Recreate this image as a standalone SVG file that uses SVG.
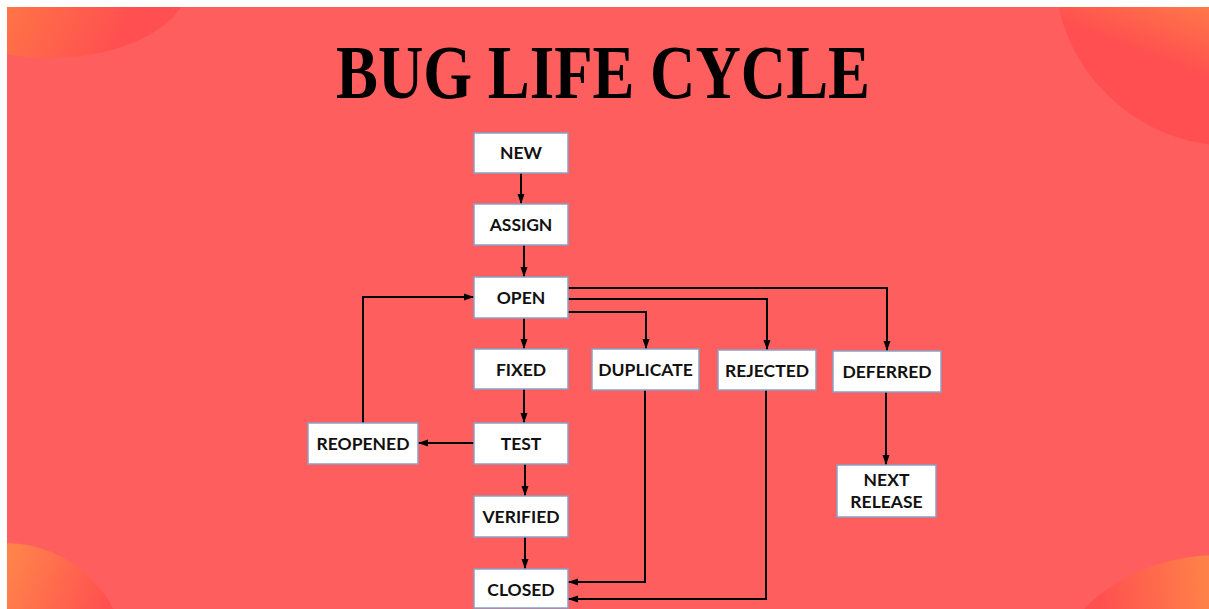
<svg xmlns="http://www.w3.org/2000/svg" width="1209" height="609" viewBox="0 0 1209 609">
<defs>
<style>
.node rect{fill:#ffffff;stroke:#8aa0c6;stroke-width:1.5}
.node text{font-family:Lato,"Open Sans","Liberation Sans",sans-serif;font-weight:bold;font-size:17.5px;fill:#111;text-anchor:middle}
.conn path{fill:none;stroke:#000;stroke-width:2;marker-end:url(#arr)}
.title{font-family:"Liberation Serif","DejaVu Serif",serif;font-weight:bold;font-size:76px;fill:#000;text-anchor:middle}
</style>
<marker id="arr" markerUnits="userSpaceOnUse" markerWidth="10" markerHeight="10" viewBox="0 0 10 10" refX="10" refY="5" orient="auto">
<path d="M0,1.5 L10,5 L0,8.5 Z" fill="#000"/>
</marker>
<linearGradient id="gTL" gradientUnits="userSpaceOnUse" x1="7" y1="7" x2="110" y2="60">
<stop offset="0" stop-color="#ff7446"/>
<stop offset="1" stop-color="#ff4f50"/>
</linearGradient>
<linearGradient id="gTR" gradientUnits="userSpaceOnUse" x1="1209" y1="7" x2="1185" y2="70">
<stop offset="0" stop-color="#ff7848"/>
<stop offset="1" stop-color="#ff4f50"/>
</linearGradient>
<linearGradient id="gBL" gradientUnits="userSpaceOnUse" x1="7" y1="560" x2="110" y2="600">
<stop offset="0" stop-color="#ff844a"/>
<stop offset="1" stop-color="#ff5050"/>
</linearGradient>
<linearGradient id="gBR" gradientUnits="userSpaceOnUse" x1="1209" y1="590" x2="1100" y2="600">
<stop offset="0" stop-color="#ff8248"/>
<stop offset="1" stop-color="#ff5050"/>
</linearGradient>
<clipPath id="frame"><rect x="7" y="7" width="1202" height="602"/></clipPath>
</defs>
<rect width="1209" height="609" fill="#ffffff"/>
<g id="background" clip-path="url(#frame)">
<rect x="7" y="7" width="1202" height="602" fill="#ff5e5e"/>
<ellipse cx="50" cy="-20" rx="140" ry="78" fill="url(#gTL)"/>
<circle cx="1232" cy="-32" r="178" fill="url(#gTR)"/>
<circle cx="5" cy="665" r="122" fill="url(#gBL)"/>
<ellipse cx="1220" cy="690" rx="170" ry="135" fill="url(#gBR)"/>
</g>
<text class="title" x="603" y="98" textLength="534" lengthAdjust="spacingAndGlyphs">BUG LIFE CYCLE</text>
<g id="connectors" class="conn">
<path d="M521,173 V204"/>
<path d="M524,245 V277"/>
<path d="M524,318 V349"/>
<path d="M524,389 V423"/>
<path d="M525,464 V496"/>
<path d="M525,537 V569"/>
<path d="M474,443 H418"/>
<path d="M363,423 V297 H474"/>
<path d="M568,288 H887 V351"/>
<path d="M568,299 H767 V350"/>
<path d="M568,312 H646 V349"/>
<path d="M645,390 V582 H568"/>
<path d="M766,390 V599 H568"/>
<path d="M886,392 V465"/>
</g>
<g id="new" class="node"><rect x="474" y="133" width="94" height="40"/><text x="521" y="159">NEW</text></g>
<g id="assign" class="node"><rect x="474" y="204" width="94" height="41"/><text x="521" y="231">ASSIGN</text></g>
<g id="open" class="node"><rect x="474" y="277" width="94" height="41"/><text x="521" y="304">OPEN</text></g>
<g id="fixed" class="node"><rect x="474" y="349" width="94" height="40"/><text x="521" y="375.5">FIXED</text></g>
<g id="test" class="node"><rect x="474" y="423" width="94" height="41"/><text x="521" y="450">TEST</text></g>
<g id="reopened" class="node"><rect x="308" y="423" width="110" height="41"/><text x="363" y="450">REOPENED</text></g>
<g id="verified" class="node"><rect x="474" y="496" width="94" height="41"/><text x="521" y="523">VERIFIED</text></g>
<g id="closed" class="node"><rect x="474" y="569" width="94" height="39"/><text x="521" y="595.5">CLOSED</text></g>
<g id="duplicate" class="node"><rect x="592" y="349" width="107" height="41"/><text x="645.5" y="376">DUPLICATE</text></g>
<g id="rejected" class="node"><rect x="718" y="350" width="98" height="40"/><text x="767" y="376.5">REJECTED</text></g>
<g id="deferred" class="node"><rect x="833" y="351" width="108" height="41"/><text x="887" y="378">DEFERRED</text></g>
<g id="next-release" class="node"><rect x="837" y="465" width="99" height="52"/><text x="886.5" y="486">NEXT</text><text x="886.5" y="508">RELEASE</text></g>
</svg>
